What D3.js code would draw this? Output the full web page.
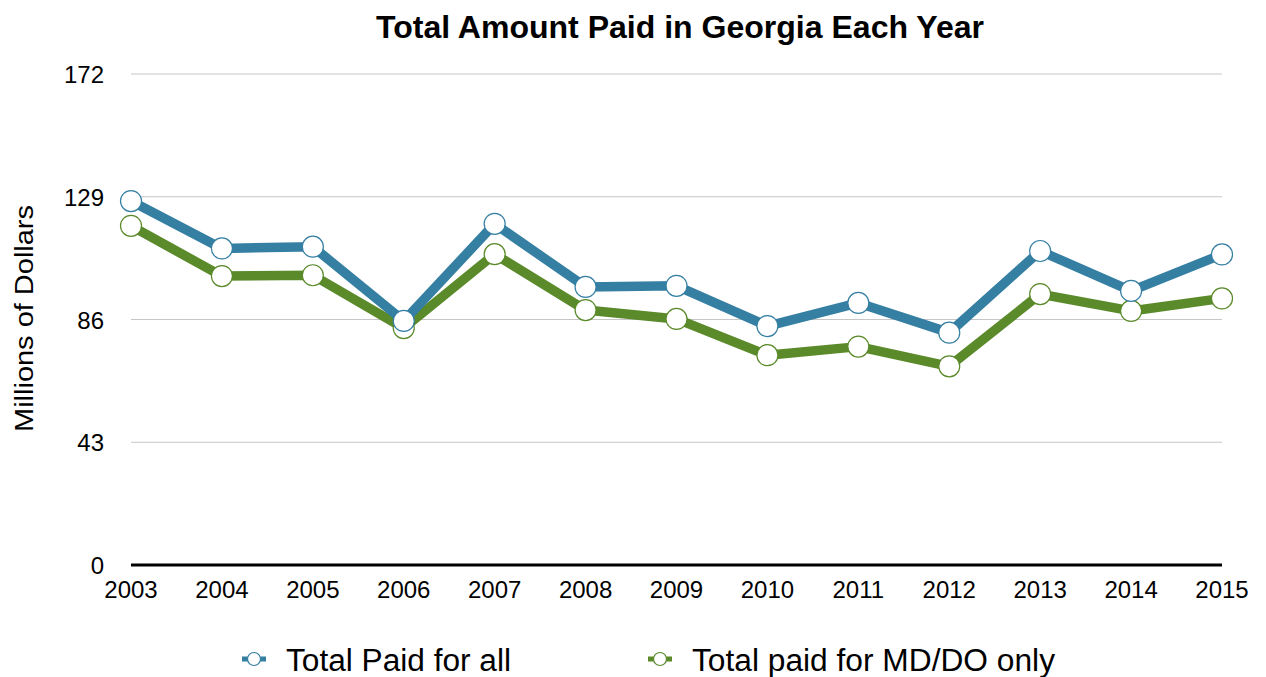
<!DOCTYPE html>
<html>
<head>
<meta charset="utf-8">
<script src="https://cdn.jsdelivr.net/npm/d3@7"></script>
<style>
  body { margin: 0; background: #fff; }
  text { font-family: "Liberation Sans", Arial, sans-serif; }
</style>
</head>
<body>
<svg id="chart" width="1266" height="677"></svg>
<script>
const years = [2003, 2004, 2005, 2006, 2007, 2008, 2009, 2010, 2011, 2012, 2013, 2014, 2015];
const paidAll = [127.5, 110.9, 111.5, 85.5, 119.5, 97.4, 97.8, 83.7, 91.8, 81.4, 110.0, 96.0, 108.8];
const paidMdDo = [118.8, 101.2, 101.5, 83.0, 108.9, 89.3, 86.2, 73.5, 76.5, 69.6, 94.9, 89.0, 93.4];
const yTicks = [0, 43, 86, 129, 172];
const seriesNames = ["Total Paid for all", "Total paid for MD/DO only"];
const colors = ["#357fa3", "#5a8a2a"];

const svg = d3.select("#chart");
const plotLeft = 131, plotRight = 1222, plotTop = 74, plotBottom = 565;

const x = d3.scalePoint().domain(years).range([plotLeft, plotRight]);
const y = d3.scaleLinear().domain([0, 172]).range([plotBottom, plotTop]);

// title
svg.append("text")
  .attr("x", 680).attr("y", 38)
  .attr("text-anchor", "middle")
  .attr("font-size", 31).attr("font-weight", "bold")
  .attr("textLength", 608).attr("lengthAdjust", "spacingAndGlyphs")
  .text("Total Amount Paid in Georgia Each Year");

// gridlines
svg.append("g")
  .selectAll("line")
  .data(yTicks.filter(d => d > 0))
  .enter().append("line")
  .attr("x1", plotLeft).attr("x2", plotRight)
  .attr("y1", d => y(d)).attr("y2", d => y(d))
  .attr("stroke", "#c6c6c6").attr("stroke-width", 1);

// y tick labels
svg.append("g")
  .selectAll("text")
  .data(yTicks)
  .enter().append("text")
  .attr("x", 104).attr("y", d => y(d) + 9)
  .attr("text-anchor", "end")
  .attr("font-size", 24)
  .text(d => d);

// y axis title
svg.append("text")
  .attr("transform", "translate(33,318.5) rotate(-90)")
  .attr("text-anchor", "middle")
  .attr("font-size", 26)
  .attr("textLength", 227).attr("lengthAdjust", "spacingAndGlyphs")
  .text("Millions of Dollars");

// x axis
svg.append("line")
  .attr("x1", plotLeft).attr("x2", plotRight)
  .attr("y1", plotBottom).attr("y2", plotBottom)
  .attr("stroke", "#000").attr("stroke-width", 3);

svg.append("g")
  .selectAll("text")
  .data(years)
  .enter().append("text")
  .attr("x", d => x(d)).attr("y", 598)
  .attr("text-anchor", "middle")
  .attr("font-size", 24)
  .text(d => d);

const line = d3.line()
  .x((d, i) => x(years[i]))
  .y(d => y(d));

const series = [paidAll, paidMdDo];

// draw lines, green below blue
[1, 0].forEach(k => {
  svg.append("path")
    .attr("d", line(series[k]))
    .attr("fill", "none")
    .attr("stroke", colors[k])
    .attr("stroke-width", 9.5)
    .attr("stroke-linejoin", "round");
});
[1, 0].forEach(k => {
  svg.append("g")
    .selectAll("circle")
    .data(series[k])
    .enter().append("circle")
    .attr("cx", (d, i) => x(years[i]))
    .attr("cy", d => y(d))
    .attr("r", 10.5)
    .attr("fill", "#fff")
    .attr("stroke", colors[k])
    .attr("stroke-width", 1.2);
});

// legend
const legendX = [254, 660];
const legendLen = [225, 363];
const legend = svg.append("g")
  .selectAll("g")
  .data(seriesNames)
  .enter().append("g")
  .attr("transform", (d, i) => "translate(" + legendX[i] + ",659)");

legend.append("line")
  .attr("x1", -12).attr("x2", 12)
  .attr("stroke", (d, i) => colors[i]).attr("stroke-width", 5);
legend.append("circle")
  .attr("r", 6.5)
  .attr("fill", "#fff")
  .attr("stroke", (d, i) => colors[i]).attr("stroke-width", 1.2);
legend.append("text")
  .attr("x", 32).attr("y", 12)
  .attr("font-size", 31)
  .attr("textLength", (d, i) => legendLen[i]).attr("lengthAdjust", "spacingAndGlyphs")
  .text(d => d);
</script>
</body>
</html>
